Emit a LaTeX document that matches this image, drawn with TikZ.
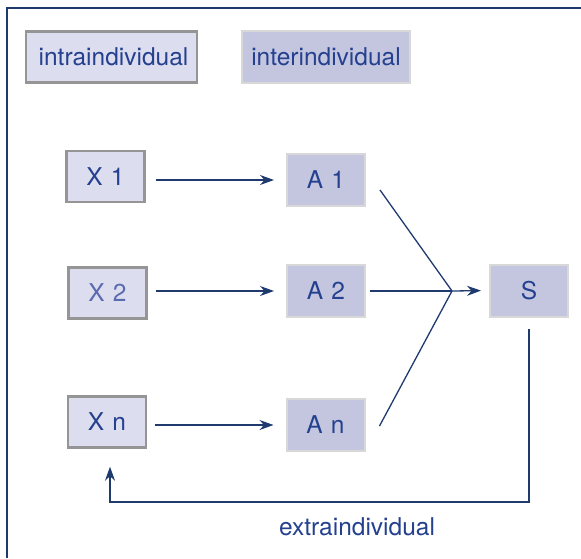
\documentclass[tikz,border=0pt]{standalone}
\usepackage{fontspec}
\setmainfont{TeX Gyre Heros}
\usepackage{xcolor}
\definecolor{ink}{HTML}{24408E}
\definecolor{inkpale}{HTML}{5A6AAE}
\definecolor{wire}{HTML}{1F3A6E}
\definecolor{intrafill}{HTML}{DCDDEF}
\definecolor{interfill}{HTML}{C4C6E0}
\definecolor{intraedge}{HTML}{959595}
\definecolor{interedge}{HTML}{D8D8D8}
\usepackage{tikz}
\usetikzlibrary{arrows.meta, positioning, calc}

\tikzset{
  intrabox/.style={draw=intraedge, fill=intrafill, line width=2.4pt,
    minimum width=78pt, minimum height=51pt, inner sep=0pt,
    font=\fontsize{24.5}{27}\selectfont, text=ink},
  interbox/.style={draw=interedge, fill=interfill, line width=2pt,
    minimum width=78pt, minimum height=52pt, inner sep=0pt,
    font=\fontsize{24.5}{27}\selectfont, text=ink},
  link/.style={draw=wire, line width=1.3pt},
  flow/.style={link, -{Stealth[length=14pt, width=10pt]}}
}

\begin{document}
\begin{tikzpicture}[x=1pt, y=-1pt]
  \useasboundingbox (0,0) rectangle (581,558);
  % outer frame
  \draw[wire, line width=2pt] (7,558) -- (7,8) -- (581,8);

  % legend
  \node[intrabox, minimum width=171pt] (intra) at (111.5,57) {\hspace*{4pt}intraindividual};
  \node[interbox, minimum width=168pt] (inter) at (326,57) {interindividual};

  % factors
  \node[intrabox] (x1) at (105.5,176.5) {X\,\,1};
  \node[intrabox, text=inkpale] (x2) at (107.5,293) {X\,\,2};
  \node[intrabox] (xn) at (107,422) {X\,\,n};

  % attributes
  \node[interbox] (a1) at (326,180) {A\,\,1};
  \node[interbox] (a2) at (326,291) {A\,\,2};
  \node[interbox] (an) at (325.5,425) {A\,\,n};

  \node[interbox] (s) at (529,290.5) {S};
  \coordinate (join) at (452,291);

  \draw[flow, shorten <=10pt, shorten >=12pt] (x1.east |- a1.west) -- (a1.west);
  \draw[flow, shorten <=8pt, shorten >=12pt] (x2.east |- a2.west) -- (a2.west);
  \draw[flow, shorten <=8pt, shorten >=12pt] (xn.east |- an.west) -- (an.west);

  \draw[link] ($(a1.east)+(14,10)$) -- (join);
  \draw[link] ($(a2.east)+(4,0)$) -- (join);
  \draw[link] ($(an.east)+(14,1)$) -- (join);
  \draw[flow, shorten >=8pt] (join) -- (s.west);

  % feedback
  \coordinate (turn) at (529,502);
  \draw[flow, shorten <=11pt, shorten >=18pt]
    (s.south) -- (turn) -| ($(xn.south)+(3,0)$);
  \node[font=\fontsize{24.5}{27}\selectfont, text=ink] (extra) at (357,527) {extraindividual};
\end{tikzpicture}
\end{document}
